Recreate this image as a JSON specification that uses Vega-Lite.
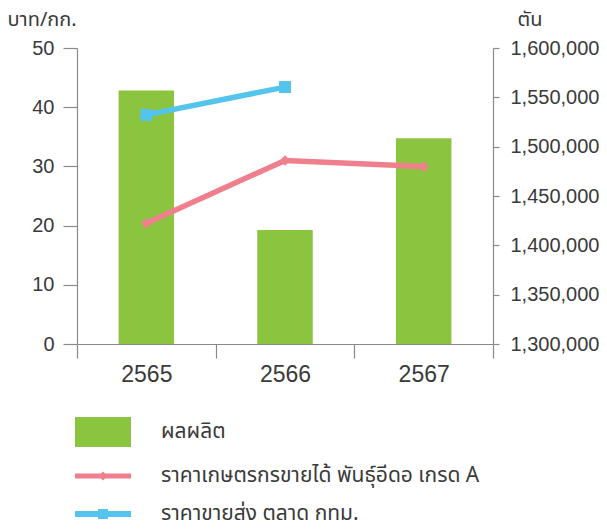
{
  "$schema": "https://vega.github.io/schema/vega-lite/v6.json",
  "width": 416,
  "height": 296,
  "autosize": {"type": "none"},
  "padding": {"left": 77, "top": 48, "right": 114, "bottom": 188},
  "background": "white",
  "config": {
    "view": {"stroke": null},
    "font": "Liberation Sans",
    "axis": {
      "grid": false,
      "domainColor": "#8a8a8a",
      "tickColor": "#8a8a8a",
      "domainWidth": 1.2,
      "tickWidth": 1.2,
      "labelColor": "#3a3a3a",
      "labelFont": "Liberation Sans",
      "titleColor": "#3a3a3a",
      "titleFont": "Noto Sans Thai, Noto Sans, Liberation Sans, sans-serif",
      "titleFontWeight": "normal",
      "titleFontSize": 20
    }
  },
  "data": {
    "values": [
      {"year": "2565", "production": 1557000, "farm": 20.4, "wholesale": 38.7},
      {"year": "2566", "production": 1415500, "farm": 31.0, "wholesale": 43.4},
      {"year": "2567", "production": 1508500, "farm": 30.0, "wholesale": null}
    ]
  },
  "encoding": {
    "x": {
      "field": "year",
      "type": "ordinal",
      "scale": {"paddingInner": 0, "paddingOuter": 0},
      "axis": {
        "title": null,
        "labelAngle": 0,
        "labelFontSize": 23,
        "labelPadding": 5,
        "tickSize": 14,
        "tickBand": "extent"
      }
    }
  },
  "layer": [
    {
      "mark": {"type": "bar", "width": {"band": 0.4}},
      "encoding": {
        "y": {
          "field": "production",
          "type": "quantitative",
          "scale": {"domain": [1300000, 1600000], "zero": false},
          "axis": {
            "orient": "right",
            "title": "ตัน",
            "titleAngle": 0,
            "titleAlign": "left",
            "titleBaseline": "alphabetic",
            "titleX": 24,
            "titleY": -23,
            "values": [1300000, 1350000, 1400000, 1450000, 1500000, 1550000, 1600000],
            "format": ",d",
            "labelFontSize": 20,
            "labelPadding": 11,
            "tickSize": 6
          }
        },
        "y2": {"datum": 1300000},
        "color": {
          "datum": "ผลผลิต",
          "scale": {
            "domain": ["ผลผลิต", "ราคาเกษตรกรขายได้ พันธุ์อีดอ เกรด A", "ราคาขายส่ง ตลาด กทม."],
            "range": ["#8BC43F", "#F07F8E", "#55C4EC"]
          },
          "legend": {
            "orient": "none",
            "legendX": -2,
            "legendY": 356,
            "title": null,
            "direction": "vertical",
            "padding": 0,
            "symbolSize": 900,
            "rowPadding": 0,
            "labelOffset": 30,
            "labelFontSize": 21,
            "labelColor": "#3a3a3a",
            "labelFont": "Noto Sans Thai, Noto Sans, Liberation Sans, sans-serif",
            "labelLimit": 500,
            "encode": {
              "symbols": {
                "update": {
                  "shape": {"signal": "datum.value === 'ผลผลิต' ? 'M-1,-0.54H1V0.54H-1Z' : (datum.value === 'ราคาขายส่ง ตลาด กทม.' ? 'M-1,-0.11H1V0.11H-1Z M-0.18,-0.18H0.18V0.18H-0.18Z' : 'M-1,-0.09H1V0.09H-1Z M-0.16,0L0,-0.16L0.16,0L0,0.16Z')"},
                  "size": {"value": 3136},
                  "fill": {"signal": "scale('color', datum.value)"},
                  "fillOpacity": {"value": 1},
                  "opacity": {"value": 1},
                  "strokeWidth": {"value": 0}
                }
              }
            }
          }
        }
      }
    },
    {
      "layer": [
        {
          "mark": {"type": "line", "strokeWidth": 5.5, "point": {"shape": "diamond", "size": 110, "filled": true}},
          "encoding": {
            "y": {
              "field": "farm",
              "type": "quantitative",
              "scale": {"domain": [0, 50]},
              "axis": {
                "orient": "left",
                "title": "บาท/กก.",
                "titleAngle": 0,
                "titleAlign": "left",
                "titleBaseline": "alphabetic",
                "titleX": -70,
                "titleY": -23,
                "values": [0, 10, 20, 30, 40, 50],
                "labelFontSize": 20,
                "labelPadding": 9,
                "tickSize": 14
              }
            },
            "color": {"datum": "ราคาเกษตรกรขายได้ พันธุ์อีดอ เกรด A"}
          }
        },
        {
          "transform": [{"filter": "datum.wholesale != null"}],
          "mark": {"type": "line", "strokeWidth": 5.5, "point": {"shape": "square", "size": 144, "filled": true}},
          "encoding": {
            "y": {"field": "wholesale", "type": "quantitative"},
            "color": {"datum": "ราคาขายส่ง ตลาด กทม."}
          }
        }
      ]
    }
  ],
  "resolve": {"scale": {"y": "independent"}}
}
